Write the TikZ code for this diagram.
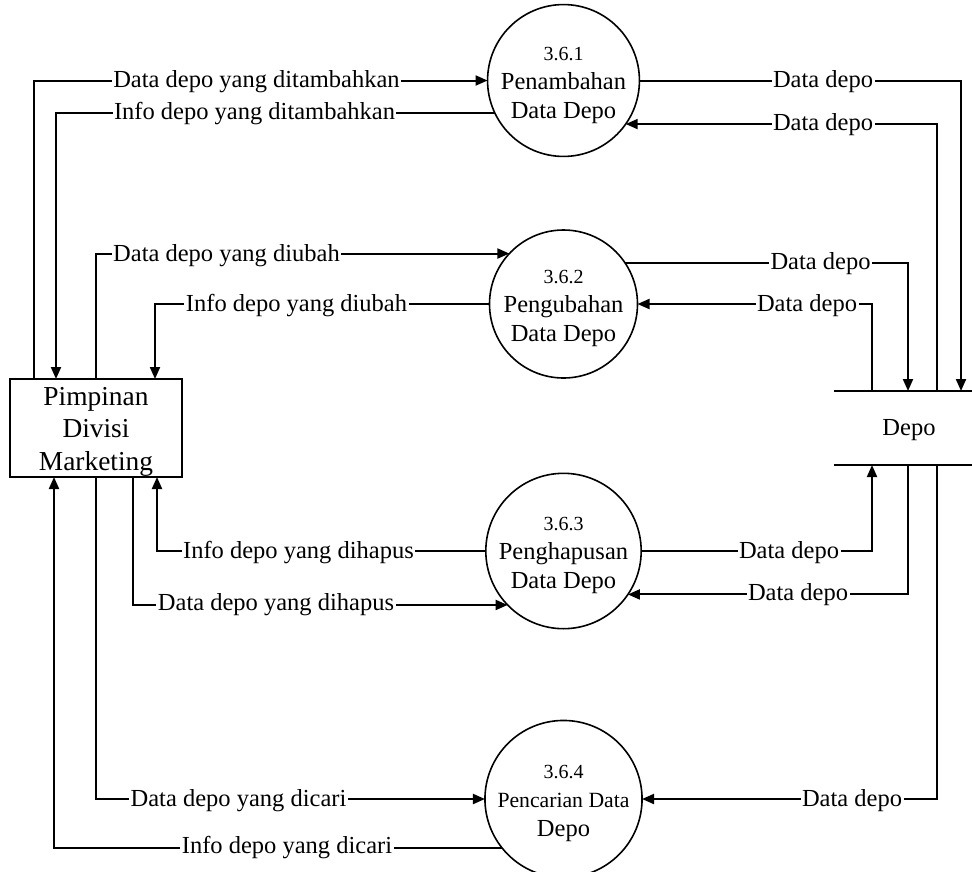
\documentclass[tikz,border=0pt]{standalone}
\usepackage{fontspec}
\setmainfont{Liberation Serif}
\usetikzlibrary{arrows.meta}
\begin{document}
\begin{tikzpicture}[x=1pt,y=-1pt,
  conn/.style={line width=2pt},
  arr/.style={conn,-{Triangle[length=12pt,width=10pt]}},
  proc/.style={circle,draw,line width=1.6pt,minimum size=148pt,inner sep=0pt,outer sep=0pt,align=center,font=\fontsize{24.5pt}{29pt}\selectfont},
  ent/.style={draw,line width=2.6pt,minimum width=172pt,minimum height=98pt,inner sep=0pt,outer sep=0pt,align=center,font=\fontsize{27.4pt}{32.5pt}\selectfont},
  storebox/.style={minimum width=150pt,minimum height=74pt,inner sep=0pt,outer sep=0pt,font=\fontsize{24.5pt}{29pt}\selectfont},
  lbl/.style={fill=white,inner xsep=1.5pt,inner ysep=0pt,text height=18pt,text depth=4pt,font=\fontsize{24.5pt}{29pt}\selectfont}]
\useasboundingbox (0,0) rectangle (972,871);

% nodes
\node[ent] (box) at (96,428) {\rule{0pt}{25pt}Pimpinan\\Divisi\\Marketing};
\node[proc] (c1) at (563.5,80.5) {{\fontsize{20pt}{24pt}\selectfont\rule{0pt}{23pt}3.6.1}\\Penambahan\\Data Depo};
\node[proc] (c2) at (563.5,304) {{\fontsize{20pt}{24pt}\selectfont\rule{0pt}{23pt}3.6.2}\\Pengubahan\\Data Depo};
\node[proc] (c3) at (563.5,551) {{\fontsize{20pt}{24pt}\selectfont\rule{0pt}{23pt}3.6.3}\\Penghapusan\\Data Depo};
\node[proc] (c4) at (563.5,799) {{\fontsize{20pt}{24pt}\selectfont\rule{0pt}{23pt}3.6.4}\\{\fontsize{21.7pt}{26pt}\selectfont Pencarian Data}\\Depo};
\node[storebox] (store) at (909,428) {\rule{0pt}{20pt}Depo};
\draw[line width=1.6pt] (store.north west) -- (store.north east);
\draw[line width=1.6pt] (store.south west) -- (store.south east);

% left connectors
\draw[arr] ([xshift=24pt]box.north west) |- (c1.west);
\draw[arr] (c1.205.2) -| ([xshift=46pt]box.north west);
\draw[arr] (box.north) |- (c2.137.5);
\draw[arr] (c2.west) -| ([xshift=145pt]box.north west);
\draw[arr] (c3.west) -| ([xshift=147pt]box.south west);
\draw[arr] ([xshift=123pt]box.south west) |- (c3.224.6);
\draw[arr] (box.south) |- (c4.west);
\draw[arr] (c4.219.4) -| ([xshift=44pt]box.south west);

% right connectors
\draw[arr] (c1.east) -| ([xshift=127pt]store.north west);
\draw[arr] ([xshift=103pt]store.north west) |- (c1.-35);
\draw[arr] (c2.34.6) -| ([xshift=74pt]store.north west);
\draw[arr] ([xshift=38pt]store.north west) |- (c2.east);
\draw[arr] (c3.east) -| ([xshift=38pt]store.south west);
\draw[arr] ([xshift=74pt]store.south west) |- (c3.-34.6);
\draw[arr] ([xshift=103pt]store.south west) |- (c4.east);

% labels
\node[lbl] (l1) at (256.5,80) {Data depo yang ditambahkan};
\node[lbl] (l2) at (254.5,112) {Info depo yang ditambahkan};
\node[lbl] (l3) at (823,80) {Data depo};
\node[lbl] (l4) at (823,123) {Data depo};
\node[lbl] (l5) at (226.5,254) {Data depo yang diubah};
\node[lbl] (l6) at (296.5,304) {Info depo yang diubah};
\node[lbl] (l7) at (820.5,262) {Data depo};
\node[lbl] (l8) at (807,304) {Data depo};
\node[lbl] (l9) at (298.5,551) {Info depo yang dihapus};
\node[lbl] (l10) at (276,603) {Data depo yang dihapus};
\node[lbl] (l11) at (789,551) {Data depo};
\node[lbl] (l12) at (798,593) {Data depo};
\node[lbl] (l13) at (238.5,799) {Data depo yang dicari};
\node[lbl] (l14) at (287,846) {Info depo yang dicari};
\node[lbl] (l15) at (852,799) {Data depo};
\end{tikzpicture}
\end{document}
